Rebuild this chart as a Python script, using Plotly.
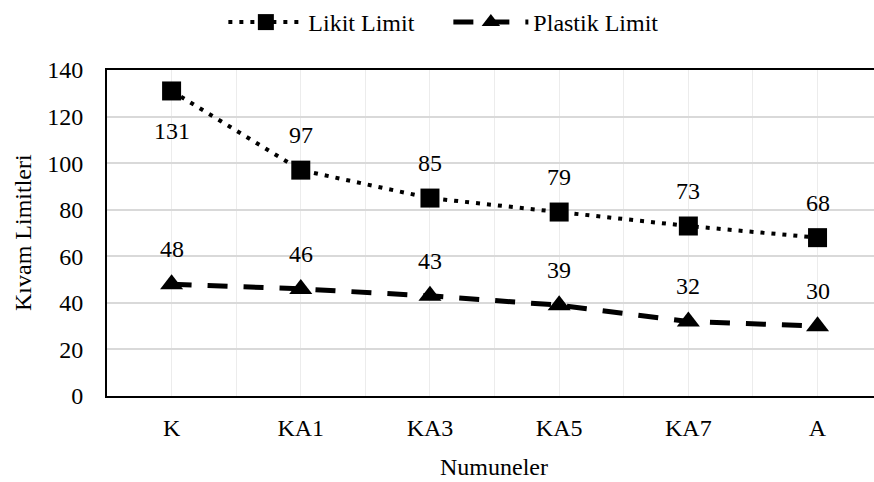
import plotly.graph_objects as go

categories = ["K", "KA1", "KA3", "KA5", "KA7", "A"]
likit_limit = [131, 97, 85, 79, 73, 68]
plastik_limit = [48, 46, 43, 39, 32, 30]
y_ticks = [0, 20, 40, 60, 80, 100, 120, 140]

FONT = "Liberation Serif"
FS = 24
xs = list(range(len(categories)))

fig = go.Figure()
fig.add_trace(go.Scatter(
    x=xs, y=likit_limit, name="Likit Limit", mode="lines+markers",
    line=dict(color="black", width=4, dash="4px,7px"),
    marker=dict(symbol="square", size=19, color="black"),
))
fig.add_trace(go.Scatter(
    x=xs, y=plastik_limit, name="Plastik Limit", mode="lines+markers",
    line=dict(color="black", width=5, dash="20px,16px"),
    marker=dict(symbol="triangle-up", size=20, color="black"),
))

ann = []
for i, v in enumerate(likit_limit):
    ann.append(dict(x=xs[i], y=v, text=str(v), showarrow=False,
                    yshift=-40 if i == 0 else 35,
                    font=dict(family=FONT, size=FS, color="black")))
for i, v in enumerate(plastik_limit):
    ann.append(dict(x=xs[i], y=v, text=str(v), showarrow=False, yshift=35,
                    font=dict(family=FONT, size=FS, color="black")))
ann.append(dict(xref="paper", yref="paper", x=(494 - 107) / (874 - 107), y=-(467 - 396) / 326,
                text="Numuneler", showarrow=False, xanchor="center", yanchor="middle",
                font=dict(family=FONT, size=FS, color="black")))
ann.append(dict(xref="paper", yref="paper", x=-(107 - 23) / (874 - 107), y=0.5,
                text="Kıvam Limitleri", showarrow=False, textangle=-90,
                xanchor="center", yanchor="middle",
                font=dict(family=FONT, size=FS, color="black")))

fig.update_layout(
    width=874, height=482,
    margin=dict(l=107, r=0, t=70, b=86),
    paper_bgcolor="white", plot_bgcolor="white",
    font=dict(family=FONT, size=FS, color="black"),
    showlegend=True,
    legend=dict(orientation="h", x=0.513, xref="container", xanchor="center",
                y=1.0, yref="container", yanchor="top",
                font=dict(family=FONT, size=FS, color="black"),
                itemwidth=75, entrywidth=135, bgcolor="rgba(0,0,0,0)"),
    annotations=ann,
)
fig.update_xaxes(
    range=[-0.5, 5.437], tickvals=xs, ticktext=categories,
    showgrid=True, gridcolor="#ececec", gridwidth=1,
    minor=dict(tickvals=[i - 0.5 for i in xs] + [len(xs) - 0.5], showgrid=True,
               gridcolor="#ececec", gridwidth=1),
    showline=True, linecolor="black", linewidth=2, mirror=True,
    ticks="outside", ticklen=0, ticklabelstandoff=9,
    tickfont=dict(family=FONT, size=FS, color="black"), zeroline=False,
)
fig.update_yaxes(
    range=[0, 140], tickvals=y_ticks,
    showgrid=True, gridcolor="#d9d9d9", gridwidth=2,
    showline=True, linecolor="black", linewidth=2,
    ticks="outside", ticklen=0, ticklabelstandoff=17,
    tickfont=dict(family=FONT, size=FS, color="black"), zeroline=False,
)

fig.write_html("out.html")
